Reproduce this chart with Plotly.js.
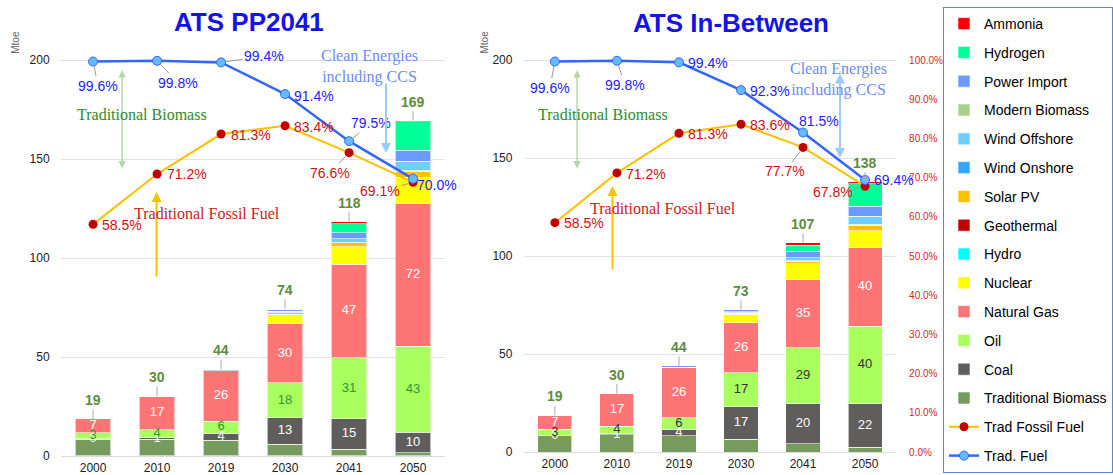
<!DOCTYPE html>
<html><head><meta charset="utf-8">
<script src="https://cdn.plot.ly/plotly-3.0.1.min.js"></script>
<style>html,body{margin:0;padding:0;background:#fff}#chart{width:1113px;height:475px}</style>
</head><body><div id="chart"></div>
<script>
const years = ['2000','2010','2019','2030','2041','2050'];

// bottom-to-top stacking order
const seriesNames = ['Traditional Biomass','Coal','Oil','Natural Gas','Nuclear','Hydro','Geothermal','Solar PV','Wind Onshore','Wind Offshore','Modern Biomass','Power Import','Hydrogen','Ammonia'];
const seriesColors = ['#779b5c','#5f5e5c','#aaff5e','#ff7575','#ffff00','#00ffff','#c00000','#ffc000','#33a6ff','#6fcdff','#a9d18e','#6b9bff','#00ff99','#ff0000'];

// ATS PP2041 (Mtoe)
const ppBiomass   = [8.4, 8.5, 8.0, 6.0, 3.5, 1.7];
const ppCoal      = [0.3, 0.8, 3.6, 13.2, 15.2, 10.3];
const ppOil       = [3.0, 4.0, 6.0, 17.7, 30.8, 43.4];
const ppGas       = [7.0, 16.9, 25.5, 29.8, 47.3, 72.1];
const ppNuclear   = [0, 0, 0, 5.0, 8.9, 13.4];
const ppHydro     = [0, 0, 0, 0, 0, 0];
const ppGeo       = [0, 0, 0, 0, 0, 0];
const ppSolar     = [0, 0, 0, 0.6, 2.0, 2.9];
const ppWindOn    = [0, 0, 0, 0.3, 0.3, 0.6];
const ppWindOff   = [0, 0, 0, 0.4, 1.7, 4.5];
const ppModernBio = [0, 0, 0, 0, 0, 0];
const ppImport    = [0, 0, 0.8, 1.1, 3.0, 5.6];
const ppHydrogen  = [0, 0, 0, 0, 4.7, 14.3];
const ppAmmonia   = [0, 0, 0, 0.3, 1.0, 0.6];
const ppTradFossil = [58.5, 71.2, 81.3, 83.4, 76.6, 69.1];
const ppTradFuel   = [99.6, 99.8, 99.4, 91.4, 79.5, 70.0];

// ATS In-Between (Mtoe)
const ibBiomass   = [8.2, 8.7, 8.2, 6.5, 4.2, 2.4];
const ibCoal      = [0.3, 0.6, 3.5, 16.6, 20.4, 22.1];
const ibOil       = [3.0, 3.8, 5.8, 17.4, 28.6, 39.6];
const ibGas       = [7.2, 16.7, 25.7, 25.5, 34.7, 40.3];
const ibNuclear   = [0, 0, 0, 4.3, 8.2, 8.6];
const ibHydro     = [0, 0, 0, 0, 0, 0];
const ibGeo       = [0, 0, 0, 0, 0, 0];
const ibSolar     = [0, 0, 0, 0.6, 1.3, 2.6];
const ibWindOn    = [0, 0, 0, 0.3, 0.3, 0.5];
const ibWindOff   = [0, 0, 0, 0.4, 1.4, 4.2];
const ibModernBio = [0, 0, 0, 0, 0, 0];
const ibImport    = [0, 0, 0.7, 1.0, 3.3, 5.2];
const ibHydrogen  = [0, 0, 0, 0, 3.0, 11.4];
const ibAmmonia   = [0, 0, 0, 0, 1.3, 1.0];
const ibTradFossil = [58.5, 71.2, 81.3, 83.6, 77.7, 67.8];
const ibTradFuel   = [99.6, 99.8, 99.4, 92.3, 81.5, 69.4];

const pctTicks = [0,10,20,30,40,50,60,70,80,90,100];

// label offsets (px) [ax, ay, leaderLine]
const ppFuelOff   = [[5,24,1],[21,22,1],[43,-6,1],[29,2,0],[22,-18,1],[24,6,0]];
const ppFossilOff = [[29,1,0],[30,0,0],[30,1,0],[29,1,0],[-19,20,1],[-33,9,1]];
const ibFuelOff   = [[-5,26,1],[8,24,1],[29,1,0],[29,1,0],[16,-12,0],[29,0,0]];
const ibFossilOff = [[29,0,0],[29,1,0],[29,1,0],[29,1,0],[-18,24,1],[-32,6,1]];

const W = 1113, H = 475;
const px = x => x / W;
const py = y => 1 - y / H;

const traces = [];
const annotations = [];

function addScenario(stack, fossil, fuel, xa, ya, pa, first, oilColor, fuelOff, fossilOff) {
  stack.forEach((vals, i) => {
    traces.push({
      type: 'bar', x: years, y: vals, xaxis: xa, yaxis: ya,
      name: seriesNames[i], legendgroup: seriesNames[i], showlegend: first,
      legendrank: 14 - i,
      marker: {color: seriesColors[i], line: {color: 'rgba(255,255,255,0.6)', width: 1}},
      hoverinfo: 'name+y'
    });
  });
  const bio = stack[0], coal = stack[1], oil = stack[2], gas = stack[3];
  const segs = [
    [coal, bio.map(v => v), '#ffffff'],
    [oil, bio.map((v,k) => v + coal[k]), oilColor],
    [gas, bio.map((v,k) => v + coal[k] + oil[k]), '#ffffff']
  ];
  segs.forEach(([vals, base, color]) => {
    traces.push({
      type: 'scatter', mode: 'text', x: years, y: vals.map((v,k) => base[k] + v/2),
      text: vals.map(v => String(Math.round(v))), xaxis: xa, yaxis: ya,
      textfont: {family: 'Arial, Liberation Sans, sans-serif', size: 13, color: color},
      showlegend: false, hoverinfo: 'skip', cliponaxis: false
    });
  });
  // totals
  const totals = years.map((_, k) => stack.reduce((s, arr) => s + arr[k], 0));
  totals.forEach((t, k) => {
    annotations.push({
      xref: xa, yref: ya, x: k, y: t, text: '<b>' + Math.round(t) + '</b>',
      showarrow: true, ax: 0, ay: -19, arrowhead: 0, arrowwidth: 1, arrowcolor: '#aaaaaa',
      font: {family: 'Arial, Liberation Sans, sans-serif', size: 14, color: '#5e8c3e'}
    });
  });
  traces.push({
    type: 'scatter', mode: 'lines+markers', x: years, y: fossil, xaxis: xa, yaxis: pa,
    name: 'Trad Fossil Fuel', legendgroup: 'Trad Fossil Fuel', showlegend: first, legendrank: 15,
    line: {color: '#ffc000', width: 2}, marker: {color: '#c00000', size: 9}, cliponaxis: false
  });
  traces.push({
    type: 'scatter', mode: 'lines+markers', x: years, y: fuel, xaxis: xa, yaxis: pa,
    name: 'Trad. Fuel', legendgroup: 'Trad. Fuel', showlegend: first, legendrank: 16,
    line: {color: '#3366ff', width: 2.5}, marker: {color: '#66bbff', size: 9, line: {color: '#3366ff', width: 1}}, cliponaxis: false
  });
  const pctAnn = (vals, off, color) => vals.forEach((v, k) => annotations.push({
    xref: xa, yref: pa, x: k, y: v, text: v.toFixed(1) + '%',
    showarrow: true, ax: off[k][0], ay: off[k][1], arrowhead: 0, arrowwidth: 1, standoff: 5,
    arrowcolor: off[k][2] ? '#9a9a9a' : 'rgba(0,0,0,0)',
    font: {family: 'Arial, Liberation Sans, sans-serif', size: 14, color: color}
  }));
  pctAnn(fossil, fossilOff, '#cc1111');
  pctAnn(fuel, fuelOff, '#2323f5');
}

addScenario([ppBiomass, ppCoal, ppOil, ppGas, ppNuclear, ppHydro, ppGeo, ppSolar, ppWindOn, ppWindOff, ppModernBio, ppImport, ppHydrogen, ppAmmonia],
  ppTradFossil, ppTradFuel, 'x', 'y', 'y3', true, '#2e9a2e', ppFuelOff, ppFossilOff);
addScenario([ibBiomass, ibCoal, ibOil, ibGas, ibNuclear, ibHydro, ibGeo, ibSolar, ibWindOn, ibWindOff, ibModernBio, ibImport, ibHydrogen, ibAmmonia],
  ibTradFossil, ibTradFuel, 'x2', 'y2', 'y4', false, '#333333', ibFuelOff, ibFossilOff);

// titles, unit labels, text notes and arrows (paper coords)
const txt = (x, y, text, size, color, family, extra) => annotations.push(Object.assign({
  xref: 'paper', yref: 'paper', x: px(x), y: py(y), text, showarrow: false,
  xanchor: 'center', yanchor: 'middle', font: {size, color, family}
}, extra || {}));
const arrow = (x, y, ay, color, width, side) => annotations.push({
  xref: 'paper', yref: 'paper', x: px(x), y: py(y), text: '', showarrow: true,
  ax: 0, ay: ay, arrowhead: 2, arrowsize: 1, arrowwidth: width, arrowcolor: color, arrowside: side
});
const SERIF = 'Liberation Serif, Times New Roman, serif';
const SANS = 'Arial, Liberation Sans, sans-serif';
txt(253, 22, '<b>ATS PP2041</b>', 26, '#1414e6', SANS);
txt(742, 23, '<b>ATS In-Between</b>', 26, '#1414e6', SANS);
txt(15, 42, 'Mtoe', 10, '#666666', SANS, {textangle: -90});
txt(492, 42, 'Mtoe', 10, '#666666', SANS, {textangle: -90});

arrow(124, 70, 100, '#b7d7a8', 1.5, 'end+start');
arrow(159, 192, 86, '#ffc000', 2, 'end');
arrow(392, 153, -71, '#99ccff', 2, 'end');
arrow(586, 70, 100, '#b7d7a8', 1.5, 'end+start');
arrow(622, 186, 85, '#ffc000', 2, 'end');
arrow(853, 158, -86, '#99ccff', 2, 'end+start');

txt(144, 115, 'Traditional Biomass', 16, '#2e8b2e', SERIF);
txt(210, 213, 'Traditional Fossil Fuel', 16, '#cc2020', SERIF);
txt(375, 67, 'Clean Energies<br>including CCS', 16, '#6a8cf5', SERIF);
txt(612, 115, 'Traditional Biomass', 16, '#2e8b2e', SERIF);
txt(673, 209, 'Traditional Fossil Fuel', 16, '#cc2020', SERIF);
txt(852, 80, 'Clean Energies<br>including CCS', 16, '#6a8cf5', SERIF);

const tickFont = {family: SANS, size: 12, color: '#222222'};
const catRange = [-0.5, years.length - 0.5];
const layout = {
  width: W, height: H,
  margin: {l: 0, r: 0, t: 0, b: 0},
  paper_bgcolor: '#ffffff', plot_bgcolor: 'rgba(0,0,0,0)',
  barmode: 'stack', bargap: 0.45,
  font: {family: SANS},
  showlegend: true,
  legend: {
    x: px(958), y: py(7), xanchor: 'left', yanchor: 'top',
    traceorder: 'grouped', tracegroupgap: 7.6,
    bordercolor: '#5a8ac6', borderwidth: 1, bgcolor: '#ffffff',
    font: {family: SANS, size: 14, color: '#000000'}
  },
  xaxis: {domain: [px(62), px(452)], anchor: 'y', type: 'category', range: catRange, autorange: false, tickfont: tickFont, showgrid: false, ticks: 'outside', ticklen: 1, tickcolor: 'rgba(0,0,0,0)'},
  yaxis: {domain: [(H-456)/H, (H-40.2)/H], anchor: 'x', range: [0, 210], autorange: false, tickvals: [0,50,100,150,200], tickfont: tickFont,
          gridcolor: '#e2e2e2', zerolinecolor: '#dddddd', ticks: 'outside', ticklen: 8, tickcolor: 'rgba(0,0,0,0)'},
  yaxis3: {overlaying: 'y', anchor: 'x', range: [0, 105], autorange: false, visible: false, showgrid: false},
  xaxis2: {domain: [px(532), px(910)], anchor: 'y2', type: 'category', range: catRange, autorange: false, tickfont: tickFont, showgrid: false, ticks: 'outside', ticklen: 1, tickcolor: 'rgba(0,0,0,0)'},
  yaxis2: {domain: [(H-452)/H, (H-40.4)/H], anchor: 'x2', range: [0, 210], autorange: false, tickvals: [0,50,100,150,200], tickfont: tickFont,
           gridcolor: '#e2e2e2', zerolinecolor: '#dddddd', ticks: 'outside', ticklen: 8, tickcolor: 'rgba(0,0,0,0)'},
  yaxis4: {overlaying: 'y2', anchor: 'x2', side: 'right', range: [0, 105], autorange: false, showgrid: false, zeroline: false,
           tickmode: 'array', tickvals: pctTicks, ticktext: pctTicks.map(v => v.toFixed(1) + '%'),
           tickfont: {family: SANS, size: 10, color: '#d02828'}, ticks: 'outside', ticklen: 10, tickcolor: 'rgba(0,0,0,0)'},
  annotations: annotations
};

Plotly.newPlot('chart', traces, layout, {displayModeBar: false, responsive: false});
</script>
</body></html>
